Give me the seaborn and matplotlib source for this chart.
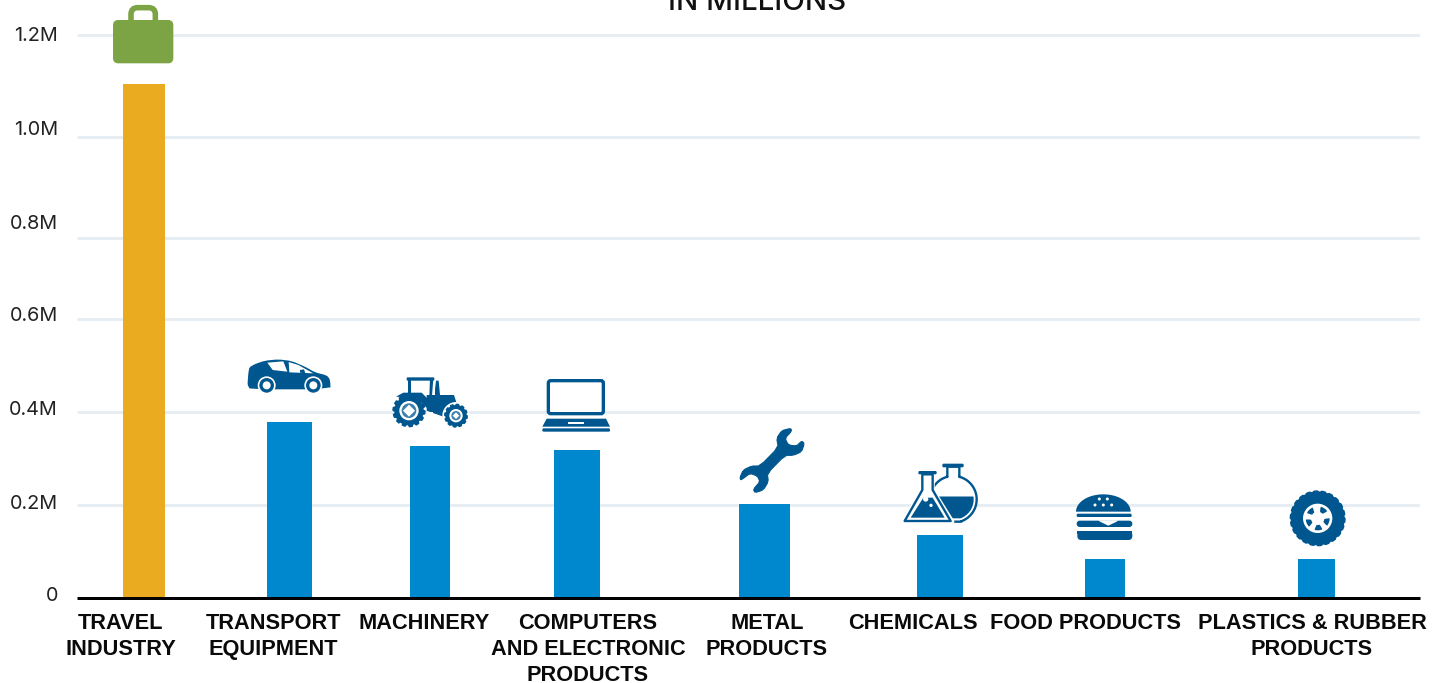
import numpy as np
import pandas as pd
import matplotlib
matplotlib.use("Agg")
import matplotlib.pyplot as plt
from matplotlib.patches import Polygon, Circle, FancyBboxPatch
from matplotlib.transforms import Affine2D
import seaborn as sns

# ---- data -------------------------------------------------------------
sectors = ["TRAVEL\nINDUSTRY", "TRANSPORT\nEQUIPMENT", "MACHINERY",
           "COMPUTERS\nAND ELECTRONIC\nPRODUCTS", "METAL\nPRODUCTS", "CHEMICALS",
           "FOOD PRODUCTS", "PLASTICS & RUBBER\nPRODUCTS"]
values = [1.105, 0.378, 0.327, 0.318, 0.202, 0.135, 0.084, 0.084]
y_labels = ["0", "0.2M", "0.4M", "0.6M", "0.8M", "1.0M", "1.2M"]

# ---- layout (x axis runs in figure pixels, the source spaces bars unevenly) ---
bar_centres = [144, 289.5, 430, 577, 764.5, 940, 1105, 1316.5]
bar_widths = [42, 45, 40, 46, 51, 46, 40, 37]
label_centres = [120.5, 273.5, 424, 588, 767, 913, 1085, 1312]
grid_levels = [0.2, 0.4, 0.6, 0.774, 0.991, 1.211]
y_label_levels = [0.008, 0.206, 0.408, 0.610, 0.809, 1.011, 1.213]

W, H = 1440, 683
BLUE, GOLD, GREEN, NAVY, GRID = "#0088CF", "#EAAB20", "#7CA445", "#00578F", "#E6EEF3"
px = 0.72
sns.set_theme(style="white")
plt.rcParams["font.family"] = ["Inter", "DejaVu Sans"]

fig = plt.figure(figsize=(W / 100, H / 100), dpi=100, facecolor="white")
ax = fig.add_axes([77 / W, (H - 598) / H, (1420 - 77) / W, 598 / H])
df = pd.DataFrame({"x": bar_centres, "value": values, "sector": sectors})
sns.barplot(data=df, x="x", y="value", hue="sector", native_scale=True,
            palette=[GOLD] + [BLUE] * 7, dodge=False, legend=False, ax=ax,
            saturation=1, zorder=3, linewidth=0)
bars = sorted([p for p in ax.patches if p.get_height() > 0], key=lambda p: p.get_x())
for p, c, w in zip(bars, bar_centres, bar_widths):
    p.set_width(w)
    p.set_x(c - w / 2)
    p.set_edgecolor("none")

ax.set_xlim(77, 1420)
ax.set_ylim(0, 598 / 465)
ax.hlines(grid_levels, 77, 1420, color=GRID, lw=3 * px, zorder=1)
for s in ["top", "left", "right"]:
    ax.spines[s].set_visible(False)
ax.spines["bottom"].set_color("black")
ax.spines["bottom"].set_linewidth(3 * px)
ax.spines["bottom"].set_capstyle("butt")
ax.spines["bottom"].set_zorder(5)
ax.set_xlabel("")
ax.set_ylabel("")
ax.set_yticks(y_label_levels, y_labels)
ax.tick_params(axis="y", length=0, pad=19 * px, labelsize=14.3, labelcolor="#222222")
ax.set_xticks(label_centres, sectors)
ax.tick_params(axis="x", length=0, pad=15 * px)
for t in ax.get_xticklabels():
    t.set(family=["Liberation Sans"], fontweight="bold", fontsize=15.65, color="#0a0a0a",
          linespacing=1.32, ha="center", va="top")

fig.text(757 / W, 1 - 10 / H, "IN MILLIONS", ha="center", va="baseline",
         fontsize=21.2, fontweight="medium", color="#111111")

# ---- decorative icons, drawn in figure pixel coordinates ----------------
to_px = Affine2D().scale(1 / W, -1 / H).translate(0, 1) + fig.transFigure


def add(artist):
    artist.set_transform(to_px)
    artist.set_clip_on(False)
    artist.set_zorder(6)
    fig.add_artist(artist)
    return artist


def smooth(points, rounds=2):
    pts = np.asarray(points, float)
    for _ in range(rounds):
        nxt = np.roll(pts, -1, axis=0)
        pts = np.column_stack([0.8 * pts + 0.2 * nxt, 0.2 * pts + 0.8 * nxt]).reshape(-1, 2)
    return pts


def poly(points, origin=(0, 0), color=NAVY, lw=0.0, edge=None):
    pts = np.asarray(points, float) / 3 + origin
    return add(Polygon(pts, closed=True, fc=color, ec=edge or color, lw=lw, joinstyle="round"))


def circ(x, y, r, origin=(0, 0), color=NAVY, edge=None, lw=0.0):
    return add(Circle((x / 3 + origin[0], y / 3 + origin[1]), r / 3, fc=color,
                      ec=edge or color, lw=lw))


def rrect(x0, y0, x1, y1, r, origin=(0, 0), color=NAVY, edge=None, lw=0.0):
    return add(FancyBboxPatch((x0 / 3 + origin[0] + r / 3, y0 / 3 + origin[1] + r / 3),
                              (x1 - x0 - 2 * r) / 3, (y1 - y0 - 2 * r) / 3,
                              boxstyle=f"round,pad={r / 3},rounding_size={r / 3}",
                              fc=color, ec=edge or color, lw=lw))


def arc_points(cx, cy, r, a0, a1, n=40, ry=None):
    a = np.radians(np.linspace(a0, a1, n))
    return np.column_stack([cx + r * np.cos(a), cy + (ry or r) * np.sin(a)])


def lugged(cx, cy, r, depth, n, origin, color=NAVY):
    a = np.linspace(0, 2 * np.pi, n * 6, endpoint=False)
    rad = r - depth * (np.sin(a * n) < -0.35)
    return poly(np.column_stack([cx + rad * np.cos(a), cy + rad * np.sin(a)]), origin, color)


# briefcase
o = (90, 0)
rrect(123, 23, 196, 90, 20, o, "none", edge=GREEN, lw=4.0)
rrect(69, 60, 250, 190, 16, o, GREEN)

# car
o = (230, 340)
poly(smooth([(53, 125), (55, 100), (58, 82), (75, 72), (105, 62), (145, 58), (185, 63), (225, 80), (255, 97),
             (290, 106), (300, 118), (302, 148), (60, 148), (53, 135)], 1), o)
poly([(112, 68), (160, 64), (172, 95), (128, 90)], o, "white")
poly([(176, 66), (205, 75), (250, 100), (178, 97)], o, "white")
poly([(210, 90), (222, 88), (226, 100), (210, 98)], o)
for cx in (110, 250):
    circ(cx, 136, 27, o, "white")
    circ(cx, 136, 22, o)
    circ(cx, 136, 12, o, "white")

# tractor
poly([(590, 165), (672, 165), (680, 190), (690, 195), (660, 212), (640, 212), (640, 230), (590, 212)], o)
rrect(530, 112, 613, 122, 3, o)
poly([(533, 115), (543, 115), (543, 165), (533, 165)], o)
poly([(600, 115), (610, 115), (606, 168), (598, 168)], o)
poly([(615, 148), (618, 122), (626, 122), (630, 165), (615, 165)], o)
poly([(498, 170), (520, 158), (575, 158), (592, 175), (592, 205), (560, 175)], o)
lugged(537, 212, 50, 6, 14, o)
circ(537, 212, 29, o, "white")
circ(537, 212, 22, o, "#3E7FAB")
poly([(537, 194), (555, 212), (537, 230), (519, 212)], o, "white")
poly([(590, 215), (610, 215), (610, 222), (590, 222)], o, "white")
poly([(590, 224), (610, 224), (610, 230), (590, 230)], o, "white")
circ(678, 227, 41, o, "white")
lugged(678, 227, 36, 4, 12, o)
circ(678, 227, 20, o, "white")
circ(678, 227, 14, o, "#3E7FAB")
poly([(678, 217), (688, 227), (678, 237), (668, 227)], o, "white")

# laptop
o = (530, 370)
rrect(55, 32, 220, 131, 7, o, "white", edge=NAVY, lw=10 / 3 * px)
poly([(50, 146), (228, 146), (240, 170), (37, 170)], o)
poly([(115, 155), (162, 155), (162, 161), (115, 161)], o, "white")
rrect(37, 175, 240, 185, 4, o)

# wrench
poly(smooth([(630, 322), (640, 300), (665, 288), (690, 288), (745, 232), (740, 205), (755, 182), (782, 175),
             (785, 183), (765, 205), (775, 225), (800, 228), (815, 213), (823, 220), (815, 245), (790, 256),
             (765, 256), (712, 310), (715, 335), (700, 360), (675, 368), (670, 358), (690, 335), (682, 318),
             (660, 310), (640, 325), (632, 330)], 1), o, lw=0.8)

# chemistry flasks
o = (890, 455)
poly(np.vstack([[(172, 35), (208, 35), (208, 66)], arc_points(190, 133, 70, -75, 70),
                [(214, 200), (155, 200)], arc_points(190, 133, 70, 120, 255), [(172, 66)]]),
     o, "white", lw=1.7, edge=NAVY)
poly(np.vstack([arc_points(190, 133, 61, -8, 70), [(211, 190), (158, 190)],
                arc_points(190, 133, 61, 120, 188)]), o)
rrect(157, 26, 221, 37, 4, o)
poly([(97, 58), (128, 58), (128, 105), (187, 200), (40, 200), (97, 105)], o, "white", lw=3,
     edge="white")
poly([(97, 58), (128, 58), (128, 105), (182, 198), (44, 198), (97, 105)], o, "white", lw=1.7,
     edge=NAVY)
poly([(100, 128), (128, 128), (164, 188), (62, 188)], o)
circ(107, 132, 8, o, "white")
circ(123, 151, 5, o, "white")
rrect(85, 48, 140, 58, 4, o)

# burger
poly(arc_points(640, 170, 82, 180, 360, ry=52), o)
for dx, dy in [(628, 132), (652, 132), (615, 150), (640, 150), (665, 150)]:
    circ(dx, dy, 4.5, o, "white")
rrect(560, 176, 725, 186, 4, o)
rrect(560, 197, 727, 216, 9, o)
poly([(625, 196), (685, 196), (680, 200), (655, 212), (630, 200)], o, "white")
rrect(562, 228, 727, 255, 12, o)
poly([(562, 228), (727, 228), (727, 238), (562, 238)], o)

# tyre
o = (1270, 480)
lugged(143, 115, 84, 3, 22, o)
circ(143, 115, 44, o, "white")
for ang in (-134, -56, 19, 86, 155):
    cx, cy = 143, 115
    poly(smooth(np.vstack([arc_points(cx, cy, 36, ang - 20, ang + 20, 6),
                           arc_points(cx, cy, 20, ang + 14, ang - 14, 4)]), 1), o)

fig.savefig("out.png", dpi=100, facecolor="white")
